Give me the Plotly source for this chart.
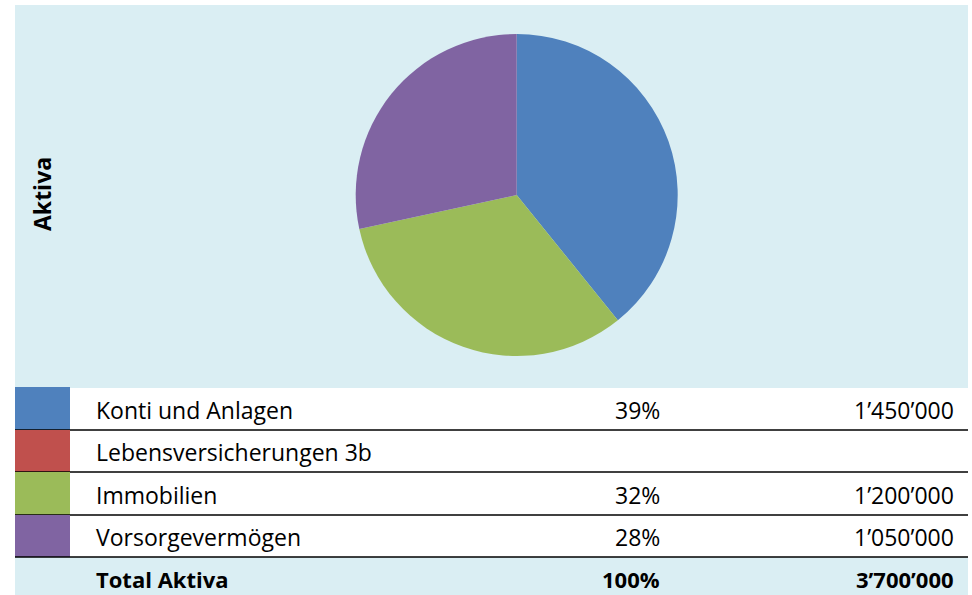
import plotly.graph_objects as go

# ---- data ----
categories = ["Konti und Anlagen", "Lebensversicherungen 3b", "Immobilien", "Vorsorgevermögen"]
values = [1450000, 0, 1200000, 1050000]
colors = ["#4F81BD", "#C0504D", "#9BBB59", "#8064A2"]
total_label = "Total Aktiva"
title_text = "Aktiva"

W, H = 972, 595
BG = "#DAEEF3"
FONT = "Open Sans"
FS = 23

def px(x):
    return x / W

def py(y):
    return 1 - y / H

def fmt(v):
    return f"{v:,}".replace(",", "\u2019")

total = sum(values)

fig = go.Figure()
fig.add_trace(go.Pie(
    labels=categories, values=values, sort=False, direction="clockwise",
    rotation=0, marker=dict(colors=colors, line=dict(width=0)),
    textinfo="none", hoverinfo="label+value+percent", showlegend=False,
    domain=dict(x=[px(355.7), px(677.7)], y=[py(356), py(34)]),
))

shapes = []
# chart background
shapes.append(dict(type="rect", xref="paper", yref="paper", x0=px(15), x1=px(968),
                   y0=py(388), y1=py(5), fillcolor=BG, line=dict(width=0), layer="below"))
# total row background
shapes.append(dict(type="rect", xref="paper", yref="paper", x0=px(15), x1=px(968),
                   y0=py(600), y1=py(557), fillcolor=BG, line=dict(width=0), layer="below"))

row_edges = [387, 430, 472, 515, 557]
annotations = []
txt_font = dict(family=FONT, size=FS, color="black")
bold_font = dict(family=FONT, size=22, color="black")
for i, (cat, val, col) in enumerate(zip(categories, values, colors)):
    top, bot = row_edges[i], row_edges[i + 1]
    shapes.append(dict(type="rect", xref="paper", yref="paper", x0=px(15), x1=px(70),
                       y0=py(bot), y1=py(top), fillcolor=col, line=dict(width=0)))
    shapes.append(dict(type="line", xref="paper", yref="paper", x0=px(15), x1=px(968),
                       y0=py(bot), y1=py(bot), line=dict(color="black", width=1.5)))
    yc = py((top + bot) / 2 + 1)
    annotations.append(dict(x=px(94), y=yc, xref="paper", yref="paper", text=cat,
                            showarrow=False, xanchor="left", yanchor="middle", font=txt_font))
    if val:
        annotations.append(dict(x=px(662), y=yc, xref="paper", yref="paper",
                                text=f"{round(val / total * 100)}%", showarrow=False,
                                xanchor="right", yanchor="middle", font=txt_font))
        annotations.append(dict(x=px(956), y=yc, xref="paper", yref="paper",
                                text=fmt(val), showarrow=False,
                                xanchor="right", yanchor="middle", font=txt_font))

yt = py(579)
annotations.append(dict(x=px(94), y=yt, xref="paper", yref="paper", text=f"<b>{total_label}</b>",
                        showarrow=False, xanchor="left", yanchor="middle", font=bold_font))
annotations.append(dict(x=px(662), y=yt, xref="paper", yref="paper", text="<b>100%</b>",
                        showarrow=False, xanchor="right", yanchor="middle", font=bold_font))
annotations.append(dict(x=px(956), y=yt, xref="paper", yref="paper", text=f"<b>{fmt(total)}</b>",
                        showarrow=False, xanchor="right", yanchor="middle", font=bold_font))
annotations.append(dict(x=px(42), y=py(194), xref="paper", yref="paper", text=f"<b>{title_text}</b>",
                        showarrow=False, textangle=-90, xanchor="center", yanchor="middle",
                        font=dict(family=FONT, size=23, color="black")))

fig.update_layout(width=W, height=H, margin=dict(l=0, r=0, t=0, b=0),
                  paper_bgcolor="white", plot_bgcolor="white",
                  shapes=shapes, annotations=annotations)
fig.write_html("out.html", config={"displayModeBar": False},
               post_script="document.body.style.margin='0';")
